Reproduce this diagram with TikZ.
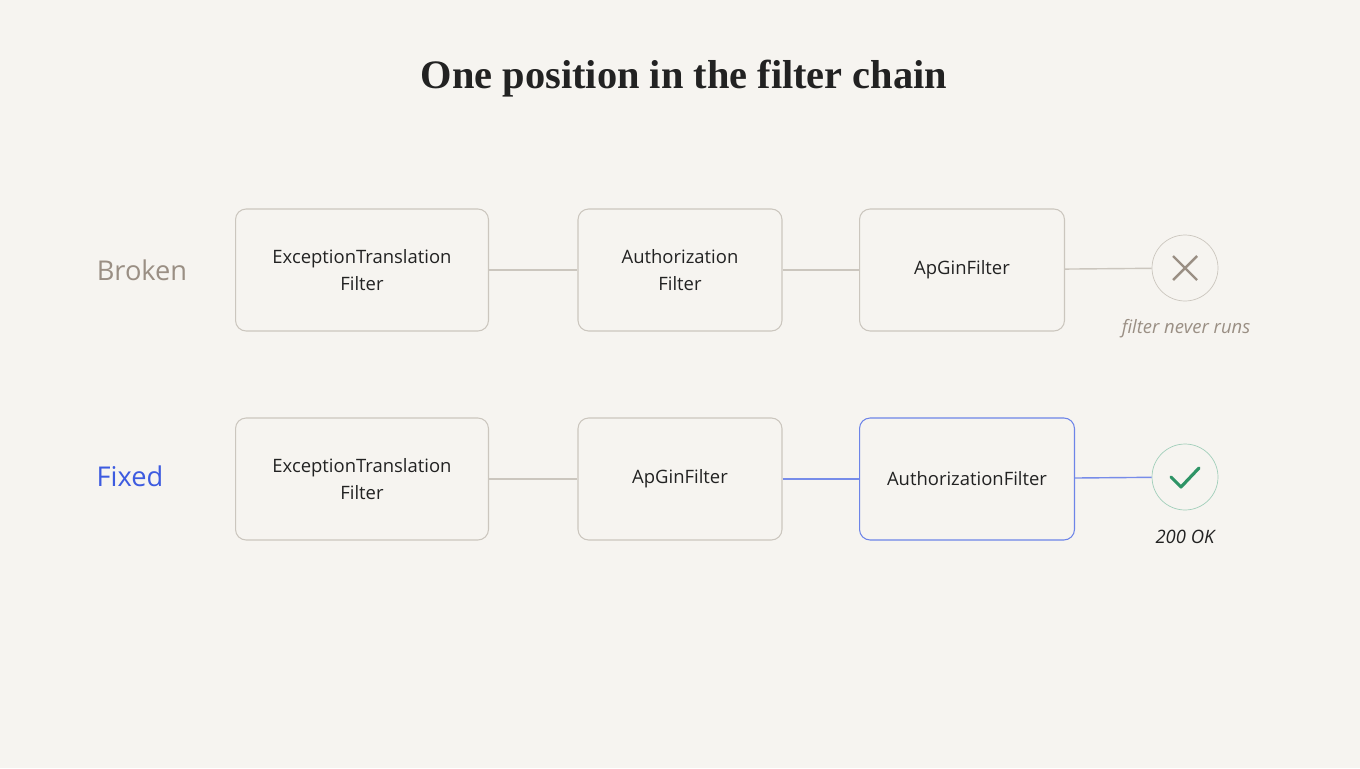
\documentclass[tikz,border=0pt]{standalone}
\usepackage{fontspec}
\setmainfont{Liberation Serif}
\setsansfont{Open Sans}
\usetikzlibrary{positioning}
\definecolor{bgpaper}{HTML}{F6F4F0}
\definecolor{boxline}{HTML}{CBC6BE}
\definecolor{brokencol}{HTML}{9A8F84}
\definecolor{fixedcol}{HTML}{3D5BE0}
\definecolor{okcol}{HTML}{2E9466}
\definecolor{inktext}{HTML}{222222}
\tikzset{
	filterbox/.style={draw=boxline, line width=0.6pt, rounded corners=6pt, fill=bgpaper,
		align=center, text=inktext, font=\sffamily\fontsize{10.5}{15}\selectfont,
		minimum height=2.44cm, inner sep=0pt},
	link/.style={draw=boxline, line width=0.8pt},
	bluelink/.style={draw=fixedcol!70, line width=0.8pt},
	endmark/.style={circle, draw=boxline, fill=bgpaper, minimum size=1.32cm, inner sep=0pt},
	rowlabel/.style={font=\sffamily\fontsize{15.5}{18}\selectfont},
	caption/.style={font=\sffamily\itshape\fontsize{10.5}{12}\selectfont},
}
\begin{document}
\begin{tikzpicture}[x=0.02cm, y=-0.02cm]
	\useasboundingbox[fill=bgpaper] (0,0) rectangle (1360,768);

	% ---------------------
	% Title
	\node[font=\fontsize{23}{26}\selectfont\bfseries, text=inktext] (Title) at (684,79) {One position in the filter chain};

	% ---------------------
	% Broken chain
	\node[rowlabel, text=brokencol] (Broken) at (142,270) {Broken};
	\node[filterbox, minimum width=5.06cm] (ExcA) at (362,270) {ExceptionTranslation\\Filter};
	\node[filterbox, minimum width=4.08cm] (AuthA) at (680,270) {Authorization\\Filter};
	\node[filterbox, minimum width=4.10cm] (ApA) at (962,270) {ApGinFilter};
	\node[endmark] (Cross) at (1185,268) {};
	\draw[brokencol, line width=1.4pt] (Cross.center) +(-12,-12) -- +(12,12) +(-12,12) -- +(12,-12);
	\node[caption, text=brokencol] (Never) at (1186,329) {filter never runs};

	\draw[link] (ExcA) -- (AuthA);
	\draw[link] (AuthA) -- (ApA);
	\draw[link] (ApA) -- (Cross);

	% ---------------------
	% Fixed chain
	\node[rowlabel, text=fixedcol] (Fixed) at (130,476) {Fixed};
	\node[filterbox, minimum width=5.06cm] (ExcB) at (362,479) {ExceptionTranslation\\Filter};
	\node[filterbox, minimum width=4.08cm] (ApB) at (680,479) {ApGinFilter};
	\node[filterbox, draw=fixedcol!75, minimum width=4.30cm] (AuthB) at (967,479) {AuthorizationFilter};
	\node[endmark, draw=okcol!45] (Check) at (1185,477) {};
	\draw[okcol, line width=1.8pt, line cap=round, line join=round] (Check.center) +(-14,0) -- +(-4,10) -- +(14,-9);
	\node[caption, text=inktext] (Ok) at (1185,537) {200 OK};

	\draw[link] (ExcB) -- (ApB);
	\draw[bluelink] (ApB) -- (AuthB);
	\draw[bluelink] (AuthB) -- (Check);

\end{tikzpicture}
\end{document}
